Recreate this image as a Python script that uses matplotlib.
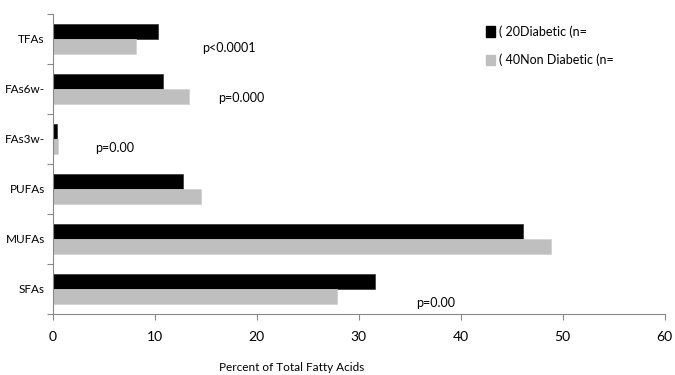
"""Fatty acid composition, diabetic vs non diabetic (horizontal grouped bars)."""

import matplotlib

matplotlib.use("Agg")
import matplotlib.pyplot as plt
import numpy as np
from matplotlib.patches import Patch

CATEGORIES = ["SFAs", "MUFAs", "PUFAs", "FAs3w-", "FAs6w-", "TFAs"]
DIABETIC = [31.6, 46.1, 12.8, 0.4, 10.8, 10.3]
NON_DIABETIC = [27.9, 48.9, 14.5, 0.45, 13.3, 8.1]
SERIES_LABELS = ["( 20Diabetic (n=", "( 40Non Diabetic (n="]

# p-value notes: (text, x value, category position)
P_TEXTS = ["p<0.0001", "p=0.000", "p=0.00", "p=0.00"]
P_X = [17.3, 18.5, 6.0, 37.5]
P_Y = [4.82, 3.82, 2.82, -0.28]

X_TICKS = [0, 10, 20, 30, 40, 50, 60]

plt.rcParams["font.family"] = ["Lato", "DejaVu Sans"]

fig = plt.figure(figsize=(6.75, 3.75), dpi=100)
ax = fig.add_axes([0.0785, 0.163, 0.906, 0.8])

y = np.arange(len(CATEGORIES))
h = 0.3
ax.barh(y + h / 2, DIABETIC, height=h, color="#000000", edgecolor="#333333", linewidth=0.5)
ax.barh(y - h / 2, NON_DIABETIC, height=h, color="#BFBFBF", edgecolor="#D0D0D0", linewidth=0.5)

for text, px, py in zip(P_TEXTS, P_X, P_Y):
    ax.text(px, py, text, ha="center", va="center", fontsize=9)

ax.set_xlim(0, 60)
ax.set_ylim(-0.5, len(CATEGORIES) - 0.5)
ax.set_xticks(X_TICKS)
ax.set_xticklabels([str(t) for t in X_TICKS], fontsize=10)

# Excel style: tick marks between categories, labels at centres
ax.set_yticks(np.arange(-0.5, len(CATEGORIES), 1.0))
ax.set_yticklabels([])
ax.set_yticks(y, minor=True)
ax.set_yticklabels(CATEGORIES, minor=True, fontsize=8.5)
ax.tick_params(axis="y", which="minor", length=0, pad=6)
ax.tick_params(axis="y", which="major", length=4, color="#888888")
ax.tick_params(axis="x", length=4, color="#888888", pad=8)

for side in ["top", "right"]:
    ax.spines[side].set_visible(False)
for side in ["left", "bottom"]:
    ax.spines[side].set_color("#888888")
    ax.spines[side].set_linewidth(0.8)

ax.set_xlabel("Percent of Total Fatty Acids", fontsize=8.5)
ax.xaxis.set_label_coords(0.39, -0.16)

handles = [
    Patch(facecolor="#000000", edgecolor="#000000"),
    Patch(facecolor="#BFBFBF", edgecolor="#BFBFBF"),
]
ax.legend(
    handles,
    SERIES_LABELS,
    loc="upper left",
    bbox_to_anchor=(0.69, 1.0),
    frameon=False,
    fontsize=9,
    handlelength=0.7,
    handleheight=0.9,
    handletextpad=0.3,
    labelspacing=1.3,
)

fig.savefig("out.png", dpi=100)
